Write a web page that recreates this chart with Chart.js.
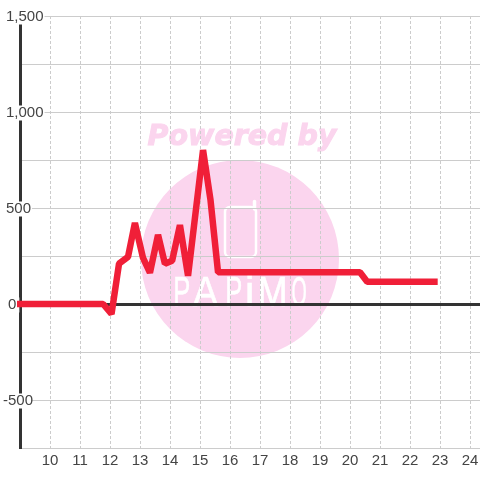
<!DOCTYPE html>
<html>
<head>
<meta charset="utf-8">
<style>
html, body { margin: 0; padding: 0; background: #fff; }
#wrap { position: relative; width: 480px; height: 480px; }
</style>
<script src="https://cdn.jsdelivr.net/npm/chart.js@4"></script>
</head>
<body>
<div id="wrap"><canvas id="myChart" width="480" height="480"></canvas></div>
<script>
// values
const xValues = [8.9, 11.77, 12.05, 12.3, 12.6, 12.83, 13.1, 13.33, 13.6, 13.83, 14.07, 14.33, 14.6, 15.1, 15.35, 15.6, 20.33, 20.57, 22.92];
const yValues = [0, 0, -52, 210, 245, 422, 240, 163, 360, 210, 225, 411, 147, 802, 540, 165, 165, 116, 116];
const xTicks = [10, 11, 12, 13, 14, 15, 16, 17, 18, 19, 20, 21, 22, 23, 24];
const yTicks = [-750, -500, -250, 0, 250, 500, 750, 1000, 1250, 1500];
const yLabelled = [-500, 0, 500, 1000, 1500];

// left, width of each letter of the logo
const logoLetters = [['P', 175, 14], ['A', 193, 25], ['P', 227, 14], ['i', 247, 5], ['M', 260, 25], ['O', 292, 14]];

const watermark = {
    id: 'watermark',
    beforeDraw(chart) {
        // the y labels do not share one left edge in the original
        chart.scales.y.getLabelItems().forEach(item => {
            let dx = 0;
            if (item.label === '-500') dx = -3;
            if (item.label === '0') dx = 2;
            item.options.translation[0] += dx;
            if (item.options.backdrop) item.options.backdrop.left += dx;
        });

        const c = chart.ctx;
        c.save();
        c.fillStyle = '#fbd5ee';
        c.strokeStyle = '#fbd5ee';
        c.beginPath();
        c.arc(240, 259, 99, 0, Math.PI * 2);
        c.fill();
        c.font = 'italic bold 28.5px "DejaVu Sans"';
        c.textAlign = 'center';
        c.textBaseline = 'middle';
        c.lineWidth = 1;
        c.fillText('Powered by', 242, 137.5);
        c.strokeText('Powered by', 242, 137.5);
        // phone
        c.strokeStyle = '#fff';
        c.lineWidth = 2.5;
        c.lineCap = 'round';
        c.beginPath();
        c.roundRect(225, 207, 31, 50, 5);
        c.stroke();
        c.lineWidth = 3.5;
        c.beginPath();
        c.moveTo(254.5, 209);
        c.lineTo(254.5, 201.5);
        c.stroke();
        // logo letters squeezed to their boxes
        c.fillStyle = '#fff';
        c.font = '42px "Liberation Sans"';
        c.textAlign = 'left';
        c.textBaseline = 'alphabetic';
        c.lineWidth = 0.6;
        logoLetters.forEach(l => {
            const m = c.measureText(l[0]);
            const w = m.actualBoundingBoxRight + m.actualBoundingBoxLeft;
            c.save();
            c.translate(l[1], 305.5);
            c.scale(l[2] / w, 1);
            c.translate(m.actualBoundingBoxLeft, 0);
            c.fillText(l[0], 0, 0);
            c.strokeText(l[0], 0, 0);
            c.restore();
        });
        c.restore();
    }
};

const ctx = document.getElementById('myChart');
const myChart = new Chart(ctx, {
    type: 'line',
    data: {
        datasets: [{
            data: xValues.map((x, i) => ({ x: x, y: yValues[i] })),
            borderColor: '#f01f38',
            borderWidth: 6.5,
            borderJoinStyle: 'bevel',
            borderCapStyle: 'butt',
            pointRadius: 0,
            tension: 0,
            fill: false,
            clip: false
        }]
    },
    options: {
        responsive: false,
        animation: false,
        layout: { padding: { top: 16, left: 0, right: 0, bottom: 0 } },
        plugins: { legend: { display: false }, title: { display: false }, tooltip: { enabled: false } },
        scales: {
            x: {
                type: 'linear',
                min: 9,
                max: 24.33,
                afterBuildTicks: axis => { axis.ticks = xTicks.map(v => ({ value: v })); },
                afterFit: axis => { axis.height = 32; axis.paddingLeft = 0; axis.paddingRight = 0; },
                grid: { color: '#ccc', lineWidth: 1, drawTicks: false },
                border: { display: true, color: '#ccc', width: 1, dash: [3, 2] },
                ticks: {
                    autoSkip: false,
                    maxRotation: 0,
                    padding: 4,
                    color: '#444',
                    font: { family: '"Liberation Sans"', size: 15 }
                }
            },
            y: {
                min: -750,
                max: 1500,
                afterBuildTicks: axis => { axis.ticks = yTicks.map(v => ({ value: v })); },
                afterFit: axis => { axis.width = 20; axis.paddingTop = 0; axis.paddingBottom = 0; },
                grid: {
                    color: c => c.tick && c.tick.value === 0 ? '#333' : '#ccc',
                    lineWidth: c => c.tick && c.tick.value === 0 ? 3 : 1,
                    drawTicks: false
                },
                border: { display: true, color: '#333', width: 3 },
                ticks: {
                    mirror: true,
                    padding: -14,
                    labelOffset: 1,
                    color: '#444',
                    font: { family: '"Liberation Sans"', size: 15, lineHeight: 1 },
                    showLabelBackdrop: true,
                    backdropColor: c => yLabelled.includes(c.tick.value) ? '#fff' : 'rgba(0,0,0,0)',
                    backdropPadding: { x: 1, y: 0 },
                    callback: v => yLabelled.includes(v) ? v.toLocaleString('en-US') : ''
                }
            }
        }
    },
    plugins: [watermark]
});
</script>
</body>
</html>
